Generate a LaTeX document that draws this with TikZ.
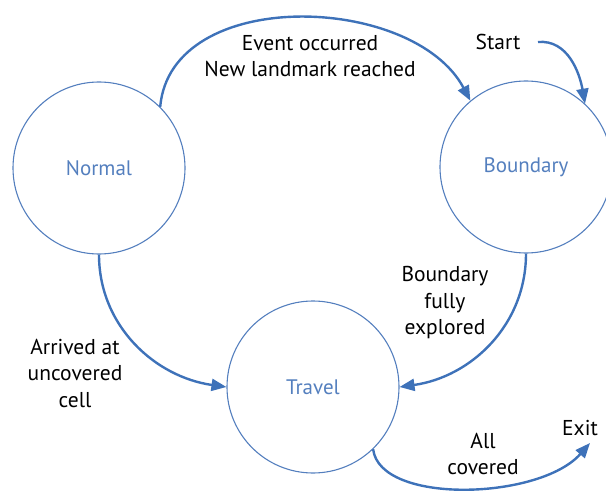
\documentclass[tikz,border=0pt]{standalone}
\usepackage{fontspec}
\setmainfont{PT Sans}
\usepackage{xcolor}
\usetikzlibrary{arrows.meta}
\definecolor{etatbleu}{RGB}{84,127,190}
\definecolor{flechebleu}{RGB}{62,114,185}
\tikzset{
  etat/.style = {circle, draw=etatbleu, line width=1.1pt, text=etatbleu,
    minimum size=172pt, inner sep=0pt, font=\fontsize{21}{25}\selectfont},% etat de l'automate
  lien/.style = {draw=flechebleu, line width=2.4pt,
    -{Triangle[length=15pt,width=12pt]}},% transition
  etiq/.style = {align=center, inner sep=0pt,
    font=\fontsize{21.5}{26.5}\selectfont}% texte de transition
}
\begin{document}
\begin{tikzpicture}[x=1pt, y=-1pt]
\useasboundingbox (0,0) rectangle (606,495);

\node[etat] (e1) at (99,168) {Normal};
\node[etat] (e2) at (526,167) {Boundary};
\node[etat] (e3) at (313,387) {Travel};

\coordinate (c_start) at (538,42);
\coordinate (c_exit) at (590,443);

% transitions
\draw[lien] (e1.45) to[out=85, in=118] (e2.130);
\draw[lien] (c_start) to[out=5, in=100] (e2.47);
\draw[lien] (e2.south) to[out=-90, in=8] (e3.east);
\draw[lien] (e1.south) to[out=-90, in=172] (e3.west);
\draw[lien] (e3.-46) .. controls (380,505) and (540,500) .. (c_exit);

% etiquettes
\node[etiq] (t1) at (310,56) {Event occurred\\New landmark reached};
\node[etiq] (t2) at (498,42) {Start};
\node[etiq] (t3) at (445,303) {Boundary\\fully\\explored};
\node[etiq] (t4) at (75,373) {Arrived at\\uncovered\\cell};
\node[etiq] (t5) at (483,454) {All\\covered};
\node[etiq] (t6) at (580,428) {Exit};
\end{tikzpicture}
\end{document}
